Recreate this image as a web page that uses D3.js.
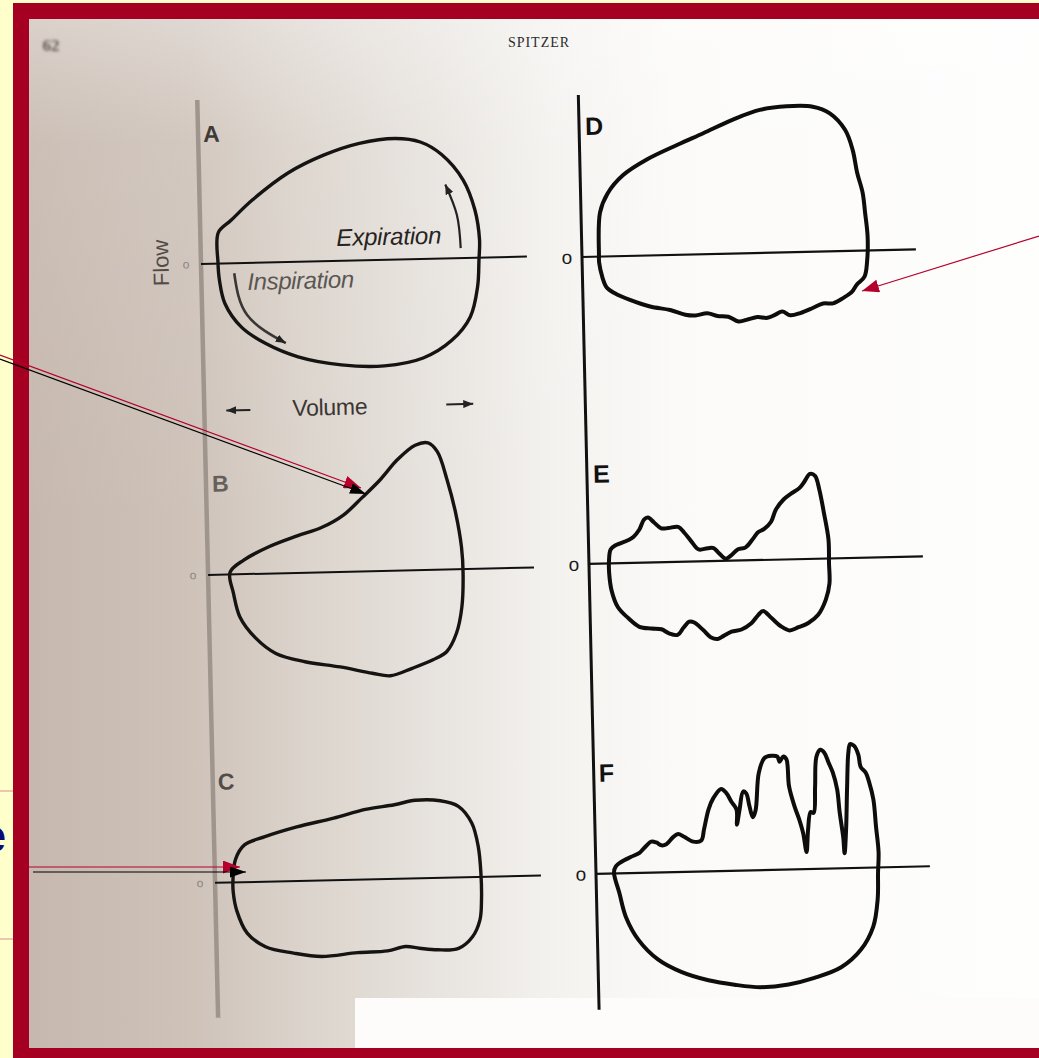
<!DOCTYPE html>
<html>
<head>
<meta charset="utf-8">
<script src="https://cdn.jsdelivr.net/npm/d3@7"></script>
<style>
  html, body { margin: 0; padding: 0; background: #ffffcc; overflow: hidden; }
  svg { display: block; }
</style>
</head>
<body>
<svg id="chart" width="1039" height="1058"></svg>
<script>
// ---------------------------------------------------------------
// Flow–volume loops (Spitzer): six panels, volume on x, flow on y.
// Every loop is a list of [volume, flow] pairs in arbitrary units;
// expiration is positive flow, inspiration negative.
// ---------------------------------------------------------------

const panelLabels = ["A", "B", "C", "D", "E", "F"];

const loopA = [[1.7,0.1],[1.8,3.1],[3.1,4.3],[5.3,6.3],[8.9,8.9],[12.5,10.6],[16.1,11.7],[19.7,12.1],[22.2,11.7],[24.3,10.4],[26.4,7.8],[27.5,4.8],[27.9,1.8],[27.8,-0.2],[27.6,-2.9],[26.8,-5.9],[24.9,-8.2],[22.0,-9.9],[18.1,-10.6],[13.8,-10.4],[9.5,-9.5],[6.3,-8.1],[3.9,-6.4],[2.3,-4.0],[1.8,-1.6]];

const loopB = [[2.2,0.2],[3.6,1.4],[6.2,2.7],[9.0,3.7],[11.5,4.5],[13.7,5.7],[15.6,7.4],[17.4,9.1],[19.2,11.1],[21.0,12.5],[22.3,12.7],[23.2,11.8],[24.1,9.0],[24.9,5.6],[25.4,2.2],[25.5,-0.4],[25.3,-3.8],[24.7,-6.4],[23.7,-8.2],[22.3,-9.0],[20.2,-9.8],[18.0,-10.5],[16.2,-10.2],[13.0,-9.5],[9.5,-8.9],[6.6,-8.0],[4.6,-6.4],[3.1,-4.3],[2.5,-1.9]];

const loopC = [[1.8,0.3],[2.1,2.3],[3.0,3.7],[5.1,4.5],[8.3,5.4],[12.0,6.2],[15.2,7.0],[18.1,7.4],[20.2,7.8],[22.7,7.7],[24.5,7.1],[25.8,5.4],[26.4,3.0],[26.6,0.4],[26.6,-2.3],[26.4,-4.3],[25.6,-6.0],[24.2,-7.1],[22.1,-7.2],[20.3,-7.0],[18.9,-6.8],[17.1,-7.2],[14.1,-7.3],[10.5,-7.6],[7.7,-7.2],[4.9,-6.5],[3.1,-5.1],[2.1,-2.8],[1.8,-1.0]];

const loopD = [[1.7,0.1],[1.9,4.4],[2.7,6.3],[4.3,8.1],[6.7,9.6],[9.8,11.0],[12.4,12.1],[15.4,13.4],[18.1,14.3],[20.8,14.6],[23.4,14.5],[25.1,13.8],[26.6,12.1],[27.3,10.1],[27.7,7.8],[28.2,5.8],[28.4,3.8],[28.6,1.4],[28.5,-1.0],[28.2,-2.6],[27.4,-3.4],[26.9,-4.1],[26.0,-4.7],[25.0,-5.2],[24.0,-5.2],[23.0,-5.6],[21.7,-6.1],[20.7,-6.3],[19.9,-5.9],[19.2,-6.2],[18.4,-6.5],[17.4,-6.4],[16.5,-6.6],[15.5,-6.8],[14.5,-6.3],[13.4,-6.2],[12.4,-5.9],[11.2,-6.1],[10.2,-6.0],[8.7,-5.5],[6.7,-5.1],[4.7,-4.4],[3.2,-3.7],[2.4,-3.1],[2.0,-2.1],[1.7,-0.6]];

const loopE = [[2.0,0.1],[2.2,1.4],[2.7,1.8],[4.0,2.3],[4.5,2.6],[5.1,3.3],[5.6,4.3],[6.0,4.5],[6.6,4.0],[7.3,3.4],[8.0,3.4],[9.0,3.5],[9.6,2.9],[10.3,2.0],[11.0,1.2],[11.9,1.3],[12.5,1.3],[13.0,0.8],[13.7,0.2],[14.2,0.5],[14.9,1.1],[15.7,1.3],[16.5,2.2],[17.0,2.8],[17.6,3.1],[18.3,3.8],[18.8,5.0],[19.6,6.0],[20.4,6.6],[21.2,7.1],[21.7,7.7],[22.3,8.5],[22.8,8.3],[23.2,6.9],[23.6,4.6],[24.0,1.9],[24.0,-0.5],[24.0,-2.5],[23.6,-4.1],[22.8,-5.6],[21.8,-6.4],[20.8,-6.8],[19.9,-7.1],[19.1,-6.7],[18.1,-5.8],[17.3,-5.1],[16.8,-5.5],[16.1,-6.3],[15.1,-6.9],[14.1,-7.1],[13.3,-7.5],[12.7,-7.8],[12.0,-7.6],[11.3,-6.9],[10.4,-6.1],[9.9,-6.0],[9.3,-6.6],[8.7,-7.3],[7.8,-7.1],[7.1,-6.7],[6.1,-6.6],[4.9,-6.4],[3.8,-5.5],[2.8,-4.4],[2.2,-2.7],[2.0,-1.0]];

const loopF = [[1.8,0.1],[2.0,0.7],[2.5,1.1],[3.5,1.6],[4.4,2.0],[4.9,2.5],[5.6,3.1],[6.1,3.0],[6.6,2.7],[7.1,2.8],[7.8,3.5],[8.3,3.8],[8.9,3.5],[9.8,3.0],[10.6,3.1],[10.9,4.2],[11.4,6.2],[11.9,7.3],[12.7,8.2],[13.2,7.8],[13.7,6.9],[14.2,6.1],[14.2,4.6],[14.5,6.1],[14.9,7.9],[15.2,7.7],[15.5,6.4],[15.8,5.3],[16.1,6.0],[16.5,9.7],[17.1,11.2],[17.8,11.4],[18.4,11.3],[18.6,10.8],[19.0,11.3],[19.3,11.0],[19.5,8.3],[20.0,6.3],[20.4,5.1],[20.8,3.6],[21.1,1.7],[21.3,3.9],[21.6,5.7],[21.9,5.6],[22.1,8.2],[22.3,11.2],[22.7,11.9],[23.1,11.6],[23.5,10.6],[23.9,9.6],[24.3,7.9],[24.5,5.6],[24.8,3.1],[24.9,1.5],[25.1,3.8],[25.3,8.1],[25.5,11.5],[25.7,12.4],[26.1,12.2],[26.5,11.3],[26.7,10.1],[27.2,9.5],[27.5,8.6],[27.9,6.8],[28.1,4.1],[28.3,1.5],[28.2,-0.5],[28.1,-3.2],[27.6,-5.9],[26.3,-8.2],[24.3,-9.9],[21.6,-10.9],[19.0,-11.5],[16.2,-11.7],[13.6,-11.4],[11.0,-10.9],[8.3,-10.0],[6.0,-8.7],[4.1,-6.7],[2.9,-4.4],[2.3,-2.0]];

// direction arrows drawn inside loop A
const expirationArrow = [[26.0,1.0],[25.7,4.3],[24.6,7.4]];
const inspirationArrow = [[3.3,-1.0],[4.5,-5.2],[8.3,-8.1]];

const zeroTickLabel = "o";
const loops = [loopA, loopB, loopC, loopD, loopE, loopF];

// ---------------------------------------------------------------
// Scales: one unit of volume / flow per 10 px, shared by all panels.
// ---------------------------------------------------------------
const x = d3.scaleLinear().domain([0, 33]).range([0, 330]);
const y = d3.scaleLinear().domain([-15, 15]).range([150, -150]);

// Page layout: two columns of three panels each.  The printed page is
// slightly rotated, so each column shares a small tilt.
const tilt = -1.3;
const columns = [
  { origin: [201, 264], rows: [0, 311, 619], axisTop: 16.4, axisBottom: -13.5,
    axisColor: "#a0958d", axisWidth: 4.5, zeroLen: 32.6,
    loopColor: "#161412", loopWidth: 3.4, zeroWidth: 2,
    tickColor: "#8c837d", tickSize: 12, tickX: -15,
    labelSize: 23, labelWeight: "bold" },
  { origin: [582, 257], rows: [0, 307, 617], axisTop: 16.2, axisBottom: -13.6,
    axisColor: "#111", axisWidth: 3, zeroLen: 33.4,
    loopColor: "#0d0d0d", loopWidth: 4, zeroWidth: 2.2,
    tickColor: "#1a1a1a", tickSize: 19, tickX: -15,
    labelSize: 25, labelWeight: "bold" }
];
const panelLayout = [
  { col: 0, row: 0, label: [0.5, 12.2], labelColor: "#3f3a36" },
  { col: 0, row: 1, label: [0.6, 8.3],  labelColor: "#65605b" },
  { col: 0, row: 2, label: [0.5, 9.3],  labelColor: "#524d48" },
  { col: 1, row: 0, label: [0.6, 12.2], labelColor: "#111" },
  { col: 1, row: 1, label: [0.6, 8.1],  labelColor: "#111" },
  { col: 1, row: 2, label: [0.5, 9.2],  labelColor: "#111" }
];

const svg = d3.select("#chart");
const W = 1039, H = 1058;
const defs = svg.append("defs");

// scanned-paper tone: brownish grey on the binding side, white towards the edge
const grad = defs.append("linearGradient").attr("id", "paper")
  .attr("x1", 0).attr("x2", 1).attr("y1", 0).attr("y2", 0);
[[0, "#c6b8ae"], [0.16, "#cec2b9"], [0.26, "#dad2ca"], [0.4, "#e7e3de"],
 [0.52, "#f4f2ef"], [0.64, "#fbfaf8"], [1, "#fefefd"]]
  .forEach(([o, c]) => grad.append("stop").attr("offset", o).attr("stop-color", c));

const vgrad = defs.append("linearGradient").attr("id", "paperTop")
  .attr("x1", 0).attr("x2", 0).attr("y1", 0).attr("y2", 1);
vgrad.append("stop").attr("offset", 0).attr("stop-color", "#ffffff").attr("stop-opacity", 0.35);
vgrad.append("stop").attr("offset", 0.12).attr("stop-color", "#ffffff").attr("stop-opacity", 0.1);
vgrad.append("stop").attr("offset", 0.5).attr("stop-color", "#ffffff").attr("stop-opacity", 0);

defs.append("filter").attr("id", "smudge")
  .append("feGaussianBlur").attr("stdDeviation", 1.6);

function arrowMarker(id, color, len, wid) {
  defs.append("marker").attr("id", id)
    .attr("viewBox", `0 0 ${len} ${wid}`)
    .attr("refX", len).attr("refY", wid / 2)
    .attr("markerWidth", len).attr("markerHeight", wid)
    .attr("markerUnits", "userSpaceOnUse")
    .attr("orient", "auto")
    .append("path").attr("d", `M0,0L${len},${wid / 2}L0,${wid}Z`).attr("fill", color);
}
arrowMarker("headRed", "#b5002c", 17, 13);
arrowMarker("headBlack", "#000", 16, 11);
arrowMarker("headSmall", "#222", 10, 8);

// ---------------------------------------------------------------
// Slide background, frame and the scanned page
// ---------------------------------------------------------------
svg.append("rect").attr("width", W).attr("height", H).attr("fill", "#ffffcc");

// fragments of the slide text behind the frame
svg.append("line").attr("x1", 0).attr("x2", 14).attr("y1", 791).attr("y2", 791)
  .attr("stroke", "#d98c95").attr("stroke-width", 1);
svg.append("line").attr("x1", 0).attr("x2", 14).attr("y1", 939).attr("y2", 939)
  .attr("stroke", "#d98c95").attr("stroke-width", 1);
svg.append("text").attr("x", 6).attr("y", 852).attr("text-anchor", "end")
  .attr("font-family", "Liberation Sans, Arial, sans-serif").attr("font-weight", "bold")
  .attr("font-size", 46).attr("fill", "#0a0a78").text("e");

svg.append("rect").attr("x", 13).attr("y", 3).attr("width", W).attr("height", H)
  .attr("fill", "#a50021");
svg.append("rect").attr("x", 29).attr("y", 19).attr("width", W - 29).attr("height", 1029)
  .attr("fill", "url(#paper)");
svg.append("rect").attr("x", 29).attr("y", 19).attr("width", W - 29).attr("height", 1029)
  .attr("fill", "url(#paperTop)");
// pasted-over caption area at the foot of the page
svg.append("rect").attr("x", 355).attr("y", 998).attr("width", W - 355).attr("height", 50)
  .attr("fill", "#fdfcfb");

// running head and page number
svg.append("text").attr("x", 539).attr("y", 47).attr("text-anchor", "middle")
  .attr("font-family", "Liberation Serif, Times New Roman, serif")
  .attr("font-size", 14).attr("letter-spacing", 1).attr("fill", "#2b2b2b").text("SPITZER");
svg.append("text").attr("x", 51).attr("y", 51).attr("text-anchor", "middle")
  .attr("font-family", "Liberation Serif, serif").attr("font-weight", "bold")
  .attr("font-size", 17).attr("fill", "#5f5650").attr("filter", "url(#smudge)").text("62");

// ---------------------------------------------------------------
// Panels
// ---------------------------------------------------------------
const loopLine = d3.line().x(d => x(d[0])).y(d => y(d[1]))
  .curve(d3.curveCatmullRomClosed.alpha(0.5));
const openLine = d3.line().x(d => x(d[0])).y(d => y(d[1])).curve(d3.curveNatural);

const colGroups = columns.map(c => {
  const g = svg.append("g")
    .attr("transform", `translate(${c.origin[0]},${c.origin[1]}) rotate(${tilt})`);
  // flow axis running through all three panels of the column
  g.append("line")
    .attr("x1", x(0)).attr("x2", x(0))
    .attr("y1", y(c.axisTop)).attr("y2", c.rows[2] + y(c.axisBottom))
    .attr("stroke", c.axisColor).attr("stroke-width", c.axisWidth);
  return g;
});

const panels = panelLayout.map((p, i) => {
  const c = columns[p.col];
  const g = colGroups[p.col].append("g").attr("transform", `translate(0,${c.rows[p.row]})`);

  // zero-flow line
  g.append("line")
    .attr("x1", x(0)).attr("x2", x(c.zeroLen)).attr("y1", y(0)).attr("y2", y(0))
    .attr("stroke", "#111").attr("stroke-width", c.zeroWidth);

  // zero tick label
  g.append("text").attr("x", c.tickX).attr("y", y(0))
    .attr("text-anchor", "middle").attr("dominant-baseline", "central")
    .attr("font-family", "Liberation Sans, Arial, sans-serif")
    .attr("font-size", c.tickSize).attr("fill", c.tickColor).text(zeroTickLabel);

  // panel letter
  g.append("text").attr("x", x(p.label[0])).attr("y", y(p.label[1]))
    .attr("font-family", "Liberation Sans, Arial, sans-serif")
    .attr("font-weight", c.labelWeight).attr("font-size", c.labelSize)
    .attr("fill", p.labelColor).text(panelLabels[i]);

  // the flow-volume loop
  g.append("path").datum(loops[i])
    .attr("d", loopLine)
    .attr("fill", "none").attr("stroke", c.loopColor)
    .attr("stroke-width", c.loopWidth).attr("stroke-linejoin", "round");
  return g;
});

// Panel A annotations: axis titles and direction of the breath
const gA = panels[0];
const sans = "Liberation Sans, Arial, sans-serif";
gA.append("text").attr("transform", `translate(${x(-4.0)},${y(0.2)}) rotate(-90)`)
  .attr("text-anchor", "middle").attr("dominant-baseline", "central")
  .attr("font-family", sans).attr("font-size", 22).attr("fill", "#514b47").text("Flow");
gA.append("text").attr("x", x(13.6)).attr("y", y(1.5))
  .attr("font-family", sans).attr("font-style", "italic").attr("font-size", 24)
  .attr("letter-spacing", -0.2).attr("fill", "#262321").text("Expiration");
gA.append("text").attr("x", x(4.6)).attr("y", y(-2.7))
  .attr("font-family", sans).attr("font-style", "italic").attr("font-size", 24)
  .attr("letter-spacing", -0.4).attr("fill", "#5b5652").text("Inspiration");
gA.append("path").datum(expirationArrow).attr("d", openLine)
  .attr("fill", "none").attr("stroke", "#222").attr("stroke-width", 2.2)
  .attr("marker-end", "url(#headSmall)");
gA.append("path").datum(inspirationArrow).attr("d", openLine)
  .attr("fill", "none").attr("stroke", "#3a3633").attr("stroke-width", 2.6)
  .attr("marker-end", "url(#headSmall)");
gA.append("text").attr("x", x(8.8)).attr("y", y(-15.4))
  .attr("font-family", sans).attr("font-size", 23).attr("letter-spacing", -0.3)
  .attr("fill", "#3a3633").text("Volume");
gA.append("line").attr("x1", x(4.6)).attr("x2", x(2.2)).attr("y1", y(-14.7)).attr("y2", y(-14.7))
  .attr("stroke", "#222").attr("stroke-width", 2).attr("marker-end", "url(#headSmall)");
gA.append("line").attr("x1", x(24.2)).attr("x2", x(26.9)).attr("y1", y(-14.6)).attr("y2", y(-14.6))
  .attr("stroke", "#222").attr("stroke-width", 2).attr("marker-end", "url(#headSmall)");

// ---------------------------------------------------------------
// Slide call-out arrows pointing into panels B, C and D
// ---------------------------------------------------------------
const callouts = [
  { from: [0, 355], to: [361, 488], color: "#b5002c", head: "headRed" },
  { from: [0, 359], to: [366, 494], color: "#000", head: "headBlack" },
  { from: [29, 867], to: [240, 867], color: "#b5002c", head: "headRed" },
  { from: [33, 872], to: [246, 872], color: "#000", head: "headBlack" },
  { from: [1039, 236], to: [862, 291], color: "#b5002c", head: "headRed" }
];
svg.append("g").selectAll("line").data(callouts).join("line")
  .attr("x1", d => d.from[0]).attr("y1", d => d.from[1])
  .attr("x2", d => d.to[0]).attr("y2", d => d.to[1])
  .attr("stroke", d => d.color).attr("stroke-width", 1.2)
  .attr("marker-end", d => `url(#${d.head})`);
</script>
</body>
</html>
